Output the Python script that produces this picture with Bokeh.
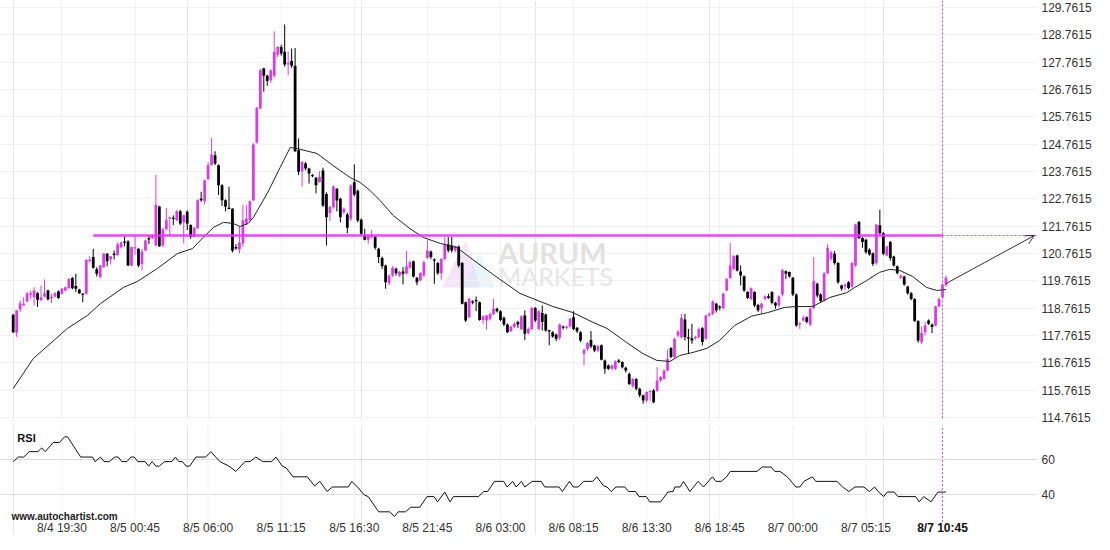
from bokeh.plotting import figure
from bokeh.layouts import column
from bokeh.models import (Range1d, FixedTicker, PrintfTickFormatter, Span, Label,
                          Arrow, OpenHead, Grid)
from bokeh.core.properties import value
from bokeh.embed import file_html
from bokeh.resources import INLINE

# ---------------- data (15-minute candles, index 0 = 8/4 16:15) ----------------
opens = [118.52, 117.86, 118.71, 118.86, 119.00, 119.25, 119.16, 119.31, 119.04, 119.19,
         119.41, 119.14, 119.19, 119.37, 119.29, 119.41, 119.49, 119.86, 119.57, 119.44,
         119.29, 119.29, 120.48, 120.63, 120.18, 119.89, 120.26, 120.75, 120.54, 120.75,
         120.71, 120.99, 121.20, 121.20, 120.32, 120.95, 120.93, 120.38, 120.87, 121.32,
         121.32, 121.05, 122.48, 121.05, 121.65, 122.04, 122.06, 121.98, 122.31, 121.90,
         122.29, 121.80, 121.37, 121.68, 122.77, 122.67, 123.48, 124.00, 124.36, 123.99,
         123.26, 122.71, 122.42, 122.40, 121.00, 120.92, 121.13, 121.86, 121.98, 122.71,
         124.82, 126.07, 127.53, 127.26, 127.10, 127.26, 128.02, 128.32, 128.14, 127.68,
         127.80, 127.63, 124.54, 123.77, 124.05, 123.87, 123.62, 123.53, 123.38, 123.80,
         122.94, 122.24, 122.46, 123.13, 122.76, 122.27, 122.19, 122.03, 123.37, 123.06,
         122.00, 121.42, 121.26, 121.36, 121.36, 120.93, 120.60, 120.32, 119.67, 119.96,
         120.20, 119.96, 120.10, 120.04, 120.24, 120.48, 119.87, 119.77, 119.96, 120.60,
         120.83, 120.54, 120.41, 120.04, 120.56, 121.09, 121.05, 120.87, 121.02, 120.41,
         118.98, 118.43, 119.00, 119.05, 118.98, 118.33, 118.31, 118.37, 118.55, 118.74,
         118.65, 118.41, 118.16, 117.92, 118.07, 118.25, 118.00, 118.49, 117.85, 118.00,
         118.77, 118.00, 118.58, 118.53, 117.94, 117.88, 117.80, 117.68, 118.09, 118.04,
         118.09, 118.43, 118.04, 117.88, 117.09, 117.27, 117.60, 117.39, 117.21, 117.40,
         116.85, 116.66, 116.54, 116.54, 116.85, 116.79, 116.58, 116.36, 115.91, 116.17,
         115.81, 115.57, 115.38, 115.69, 115.75, 115.73, 116.11, 116.17, 116.48, 117.30,
         116.97, 117.76, 117.70, 118.35, 117.69, 117.66, 117.66, 117.70, 118.03, 117.64,
         118.49, 118.55, 118.92, 118.81, 118.76, 119.41, 119.86, 120.20, 120.69, 120.10,
         119.93, 119.35, 119.10, 119.35, 118.88, 118.76, 119.10, 119.20, 119.35, 118.96,
         118.86, 119.26, 120.11, 120.08, 119.87, 119.26, 118.16, 118.31, 118.43, 118.16,
         118.77, 119.65, 119.26, 119.04, 120.04, 120.57, 120.75, 120.41, 119.59, 119.55,
         119.71, 119.55, 120.32, 121.91, 121.33, 121.26, 120.90, 120.77, 120.41, 121.79,
         121.50, 120.69, 121.18, 120.65, 120.29, 119.87, 119.92, 119.55, 119.31, 119.10,
         118.29, 117.52, 117.88, 118.31, 118.16, 118.13, 118.82, 119.16, 119.60]
highs = [118.55, 118.68, 119.04, 119.16, 119.35, 119.41, 119.53, 119.35, 119.59, 119.81,
         119.44, 119.29, 119.35, 119.41, 119.50, 119.55, 119.86, 119.90, 120.02, 119.47,
         119.29, 120.55, 120.66, 120.93, 120.26, 120.35, 120.78, 120.78, 120.68, 120.87,
         121.17, 121.20, 121.39, 121.25, 121.02, 121.39, 120.95, 120.93, 121.27, 121.42,
         121.45, 123.64, 122.50, 121.70, 122.43, 122.10, 122.16, 122.36, 122.36, 122.18,
         122.34, 121.83, 121.73, 122.74, 123.02, 123.46, 124.10, 124.99, 124.50, 124.02,
         123.30, 122.74, 123.20, 122.42, 121.10, 121.74, 122.55, 122.53, 122.70, 124.80,
         126.12, 127.53, 127.56, 127.30, 127.50, 128.89, 128.35, 128.40, 129.14, 128.14,
         128.26, 128.28, 124.97, 124.15, 124.10, 123.90, 123.67, 123.56, 123.77, 123.90,
         123.00, 122.50, 123.25, 123.15, 122.80, 122.45, 122.25, 123.30, 124.02, 123.10,
         122.05, 121.66, 121.45, 121.63, 121.40, 120.97, 120.65, 120.35, 120.00, 120.30,
         120.25, 120.12, 120.26, 120.85, 120.50, 120.50, 119.90, 120.08, 120.50, 121.24,
         120.87, 120.58, 120.45, 120.60, 121.36, 121.36, 121.36, 121.05, 121.05, 120.45,
         119.00, 119.15, 119.05, 119.19, 119.00, 118.50, 118.52, 118.60, 119.10, 118.78,
         118.68, 118.45, 118.20, 118.12, 118.25, 118.30, 118.50, 118.68, 118.05, 118.80,
         118.80, 118.70, 118.86, 118.56, 117.97, 117.92, 117.83, 118.20, 118.12, 118.12,
         118.40, 118.65, 118.07, 117.92, 117.28, 117.52, 117.92, 117.42, 117.42, 117.43,
         116.88, 116.70, 116.70, 116.85, 116.90, 116.82, 116.62, 116.40, 116.20, 116.20,
         115.85, 115.60, 115.72, 115.76, 115.80, 116.60, 116.28, 116.52, 117.25, 117.33,
         117.68, 117.95, 118.55, 118.55, 118.00, 118.19, 117.75, 118.05, 118.07, 118.52,
         118.60, 119.05, 118.95, 118.86, 119.33, 119.87, 121.15, 120.70, 120.72, 120.32,
         119.96, 119.38, 119.52, 119.38, 118.92, 118.95, 119.23, 119.29, 119.38, 118.99,
         119.23, 120.20, 120.14, 120.10, 119.90, 119.30, 118.25, 118.50, 118.46, 118.78,
         120.63, 119.70, 119.30, 120.08, 121.11, 120.85, 120.85, 120.45, 119.62, 119.66,
         119.75, 120.45, 121.85, 121.95, 121.36, 121.30, 120.95, 120.80, 121.85, 122.36,
         121.55, 121.05, 121.22, 120.68, 120.32, 120.00, 119.95, 119.58, 119.35, 119.13,
         118.32, 118.10, 118.25, 118.35, 118.20, 118.85, 119.15, 119.66, 119.95]
lows = [117.85, 117.70, 118.61, 118.86, 118.98, 119.10, 118.86, 118.80, 119.04, 119.16,
        119.04, 118.95, 119.16, 119.10, 119.26, 119.38, 119.47, 119.45, 119.35, 119.28,
        118.98, 119.26, 120.44, 120.20, 119.92, 119.87, 120.24, 120.29, 120.36, 120.54,
        120.68, 120.95, 121.02, 120.30, 120.30, 120.71, 120.26, 120.14, 120.85, 121.11,
        121.30, 121.03, 121.00, 121.00, 121.62, 121.43, 121.80, 121.95, 121.80, 121.13,
        121.62, 121.30, 121.35, 121.65, 122.65, 122.55, 123.46, 123.98, 124.00, 122.90,
        122.50, 122.30, 122.38, 120.80, 120.90, 120.76, 121.00, 121.80, 121.95, 122.68,
        124.78, 126.05, 126.68, 126.90, 127.00, 127.20, 127.95, 128.00, 127.60, 127.28,
        127.55, 124.48, 123.63, 123.20, 123.80, 123.32, 123.55, 122.96, 123.35, 122.46,
        121.05, 121.95, 122.40, 122.30, 121.90, 122.20, 121.50, 121.95, 122.85, 121.90,
        121.42, 121.24, 121.12, 121.30, 120.90, 120.41, 120.20, 119.47, 119.60, 119.90,
        119.95, 119.90, 119.63, 120.00, 120.20, 119.88, 119.60, 119.75, 119.90, 120.56,
        120.55, 119.65, 119.98, 119.80, 120.50, 120.80, 120.80, 120.80, 120.25, 118.90,
        118.25, 118.40, 118.90, 118.65, 118.30, 118.19, 117.97, 118.30, 118.50, 118.60,
        118.28, 118.10, 117.85, 117.88, 118.03, 118.04, 117.95, 117.60, 117.80, 117.95,
        118.25, 117.95, 117.94, 117.90, 117.40, 117.68, 117.55, 117.60, 117.98, 117.98,
        118.05, 117.95, 117.85, 117.52, 116.66, 117.20, 117.30, 117.15, 117.15, 116.85,
        116.36, 116.50, 116.50, 116.50, 116.75, 116.55, 116.40, 115.95, 115.85, 115.75,
        115.50, 115.26, 115.30, 115.38, 115.28, 115.70, 116.05, 116.15, 116.45, 116.93,
        116.93, 117.70, 117.65, 117.58, 117.09, 117.46, 117.60, 117.65, 117.40, 117.60,
        118.45, 118.50, 118.60, 118.68, 118.72, 119.38, 119.83, 120.15, 120.10, 119.59,
        119.35, 119.10, 119.05, 118.80, 118.62, 118.55, 119.05, 119.10, 118.90, 118.74,
        118.80, 119.20, 119.83, 119.88, 119.20, 118.08, 118.00, 118.28, 118.20, 118.10,
        118.72, 119.15, 118.95, 119.00, 120.00, 120.50, 120.35, 119.65, 119.40, 119.41,
        119.45, 119.50, 120.28, 121.28, 120.97, 120.75, 120.68, 120.30, 120.35, 121.45,
        120.70, 120.65, 120.50, 120.28, 120.00, 119.82, 119.58, 119.25, 119.05, 118.25,
        117.50, 117.45, 117.76, 118.15, 117.85, 118.10, 118.80, 119.10, 119.55]
closes = [117.88, 118.68, 118.94, 118.92, 119.31, 119.31, 119.41, 119.07, 119.16, 119.31,
          119.09, 119.16, 119.31, 119.13, 119.47, 119.53, 119.83, 119.49, 119.47, 119.31,
          119.26, 120.53, 120.53, 120.24, 120.02, 120.32, 120.75, 120.48, 120.66, 120.71,
          121.09, 121.17, 121.15, 120.32, 120.99, 120.99, 120.32, 120.83, 121.24, 121.27,
          121.39, 122.54, 121.03, 121.64, 121.98, 122.10, 122.04, 122.31, 121.86, 122.16,
          121.86, 121.37, 121.70, 122.71, 122.71, 123.44, 124.00, 124.38, 124.05, 123.26,
          122.71, 122.47, 122.40, 120.86, 120.94, 121.16, 121.98, 122.04, 122.67, 124.75,
          126.09, 127.47, 127.26, 127.07, 127.47, 128.14, 128.32, 128.08, 127.68, 127.73,
          127.63, 124.50, 123.75, 124.11, 123.87, 123.69, 123.60, 123.26, 123.56, 122.52,
          122.09, 122.46, 123.21, 122.70, 122.09, 122.40, 121.70, 123.25, 122.92, 121.97,
          121.48, 121.26, 121.42, 121.42, 120.97, 120.63, 120.29, 119.71, 119.96, 120.24,
          120.04, 120.08, 120.02, 120.29, 120.44, 119.92, 119.71, 120.04, 120.44, 120.87,
          120.63, 120.50, 120.04, 120.56, 121.09, 120.87, 120.87, 121.02, 120.32, 118.92,
          118.31, 119.10, 118.97, 119.02, 118.33, 118.46, 118.49, 118.55, 118.74, 118.65,
          118.33, 118.16, 117.88, 118.09, 118.19, 118.16, 118.46, 117.82, 118.00, 118.77,
          118.31, 118.65, 118.25, 117.94, 117.92, 117.72, 117.64, 118.16, 118.04, 118.09,
          118.37, 118.00, 117.92, 117.58, 117.24, 117.48, 117.36, 117.21, 117.38, 116.87,
          116.54, 116.54, 116.66, 116.82, 116.79, 116.60, 116.48, 115.99, 116.17, 115.81,
          115.57, 115.38, 115.69, 115.73, 115.32, 116.11, 116.24, 116.48, 116.91, 116.97,
          117.64, 117.91, 118.40, 117.70, 117.66, 117.58, 117.70, 118.00, 117.52, 118.49,
          118.55, 119.00, 118.68, 118.79, 119.29, 119.83, 120.32, 120.66, 120.14, 119.96,
          119.41, 119.13, 119.49, 118.86, 118.68, 118.92, 119.20, 119.13, 118.96, 118.86,
          119.20, 120.16, 120.02, 119.92, 119.26, 118.13, 118.21, 118.41, 118.25, 118.74,
          119.75, 119.22, 119.02, 120.04, 120.97, 120.81, 120.41, 119.71, 119.47, 119.63,
          119.50, 120.41, 121.82, 121.33, 121.18, 120.81, 120.72, 120.38, 121.82, 121.50,
          120.75, 121.02, 120.60, 120.32, 120.04, 119.96, 119.63, 119.31, 119.10, 118.29,
          117.58, 117.85, 118.13, 118.19, 118.07, 118.82, 119.10, 119.63, 119.87]

# moving average: (bar, price)
ma_trace = [(0, 115.82), (5.8, 116.92), (15.6, 118.02), (21.3, 118.49), (25.1, 118.93),
            (31.7, 119.52), (35.7, 119.74), (41.4, 120.21), (47.2, 120.76), (51.5, 120.94),
            (54.6, 121.35), (57.5, 121.71), (60.4, 121.90), (63.2, 121.86), (65.2, 121.75),
            (67.5, 121.86), (69.0, 122.08), (73.0, 122.96), (76.7, 123.91), (79.6, 124.64),
            (81.6, 124.60), (87.3, 124.42), (91.9, 123.98), (96.8, 123.54), (99.7, 123.36),
            (102.5, 123.07), (105.4, 122.70), (109.2, 122.15), (114.0, 121.67), (117.8, 121.35),
            (122.7, 121.13), (127.5, 120.98), (131.3, 120.61), (137.9, 119.99), (145.6, 119.30),
            (149.3, 119.11), (155.1, 118.82), (160.8, 118.60), (166.6, 118.24), (170.6, 118.02),
            (176.3, 117.50), (180.9, 117.10), (184.9, 116.85), (188.7, 116.81), (191.5, 117.03),
            (195.3, 117.14), (199.3, 117.29), (203.0, 117.58), (207.3, 118.13), (212.2, 118.47),
            (216.8, 118.60), (221.7, 118.79), (225.1, 118.82), (229.7, 118.82), (234.6, 119.15),
            (239.5, 119.33), (241.8, 119.52), (245.2, 119.77), (248.9, 120.07), (251.8, 120.18),
            (254.7, 120.14), (258.4, 119.92), (262.4, 119.52), (265.3, 119.41), (268.0, 119.44)]

# RSI: (bar, value)
rsi_trace = [(0, 58.8), (1.5, 61.4), (3.0, 61.4), (4.6, 64.5), (7.1, 64.5), (8.2, 66.6),
             (9.2, 64.5), (11.5, 69.7), (13.3, 69.7), (14.8, 73.0), (15.6, 73.0), (19.4, 61.4),
             (22.8, 61.4), (23.5, 58.8), (25.1, 61.4), (26.1, 58.8), (27.6, 58.8), (29.2, 61.4),
             (30.2, 61.4), (31.2, 58.8), (32.7, 58.8), (33.8, 61.4), (34.8, 61.4), (35.8, 58.8),
             (37.9, 58.8), (38.9, 56.2), (39.9, 58.8), (41.0, 56.2), (42.0, 56.2), (43.5, 58.8),
             (45.6, 58.8), (46.6, 61.4), (47.6, 58.8), (48.6, 58.8), (49.7, 56.2), (50.7, 56.2),
             (52.5, 61.4), (55.3, 61.4), (56.8, 64.5), (59.4, 58.8), (62.0, 56.2), (64.0, 53.2),
             (66.6, 58.8), (68.1, 58.8), (69.7, 61.4), (71.7, 58.8), (74.3, 58.8), (75.5, 61.4),
             (77.3, 56.2), (78.4, 55.3), (80.4, 50.1), (84.5, 50.1), (86.6, 44.9), (88.1, 47.5),
             (90.2, 41.7), (91.7, 44.3), (96.3, 44.3), (97.3, 47.5), (98.9, 44.3), (100.9, 39.7),
             (102.0, 38.8), (105.0, 30.1), (108.1, 30.1), (109.6, 27.5), (110.6, 30.1),
             (112.7, 30.1), (114.2, 32.7), (116.8, 32.7), (118.9, 38.8), (120.9, 38.8),
             (121.9, 35.8), (124.0, 41.4), (125.5, 35.8), (126.5, 38.8), (133.7, 38.8),
             (135.2, 41.7), (136.3, 41.7), (138.3, 47.5), (140.9, 47.5), (141.9, 44.3),
             (143.5, 47.5), (144.5, 44.3), (146.0, 47.5), (147.0, 44.3), (149.1, 47.5),
             (151.7, 47.5), (152.7, 44.3), (156.8, 44.3), (157.8, 41.7), (159.8, 47.5),
             (160.9, 44.3), (162.4, 44.3), (163.9, 47.5), (166.5, 47.5), (167.7, 50.1),
             (169.6, 44.9), (170.6, 44.3), (171.8, 41.7), (173.2, 44.3), (175.7, 44.3),
             (176.8, 41.7), (178.8, 41.7), (179.8, 38.8), (181.9, 38.8), (182.9, 35.8),
             (186.0, 35.8), (188.1, 41.4), (189.6, 41.7), (190.1, 44.3), (191.6, 44.3),
             (192.6, 47.5), (194.4, 41.7), (196.8, 47.5), (198.3, 44.3), (200.9, 50.1),
             (201.9, 47.5), (203.4, 47.5), (205.0, 50.1), (206.0, 53.2), (213.7, 53.2),
             (215.2, 55.7), (217.8, 55.7), (218.8, 53.2), (220.3, 53.2), (222.4, 50.1),
             (224.9, 44.3), (226.0, 44.3), (227.2, 47.5), (229.6, 50.1), (230.6, 47.5),
             (236.7, 47.5), (238.3, 44.3), (240.1, 41.7), (241.9, 44.3), (244.4, 44.3),
             (246.0, 41.7), (247.5, 44.3), (248.5, 41.7), (250.1, 38.8), (251.1, 41.4),
             (253.1, 41.4), (254.2, 38.8), (259.3, 38.8), (260.3, 35.8), (261.6, 38.8),
             (263.7, 35.8), (265.7, 41.4), (268.0, 41.4)]

x_tick_bars = [14, 35, 56, 77, 98, 119, 140, 161, 182, 203, 224, 245]
x_tick_labels = ["8/4 19:30", "8/5 00:45", "8/5 06:00", "8/5 11:15", "8/5 16:30",
                 "8/5 21:45", "8/6 03:00", "8/6 08:15", "8/6 13:30", "8/6 18:45",
                 "8/7 00:00", "8/7 05:15"]
signal_bar = 267
signal_label = "8/7 10:45"
resistance_level = 121.42
resistance_start_bar = 23
arrow_start = (268, 119.66)
arrow_end_bar = 293.4
price_ticks = [114.7615 + k for k in range(16)]
rsi_ticks = [40, 60]

# ---------------- styling ----------------
MAG = "#d93ce6"
FONT = "Liberation Sans"
GRID = "#f1f1f1"

n = min(len(opens), len(highs), len(lows), len(closes))
idx = list(range(n))
colors = [MAG if closes[i] >= opens[i] else "#000000" for i in idx]
tops, bots = [], []
for i in idx:
    t, b = max(opens[i], closes[i]), min(opens[i], closes[i])
    if t - b < 0.045:
        m = (t + b) / 2
        t, b = m + 0.0225, m - 0.0225
    tops.append(t)
    bots.append(b)

xr = Range1d(-3.645, 294.29)

# ---------------- price panel ----------------
p = figure(width=1094, height=425, x_range=xr, y_range=Range1d(114.65, 130.018),
           output_backend="svg", toolbar_location=None, x_axis_location=None,
           y_axis_location="right", min_border_left=0, min_border_right=56,
           min_border_top=0, min_border_bottom=5)
p.outline_line_color = None
p.yaxis.ticker = FixedTicker(ticks=price_ticks)
p.yaxis.formatter = PrintfTickFormatter(format="%.4f")
p.yaxis.axis_line_color = None
p.yaxis.major_tick_line_color = None
p.yaxis.minor_tick_line_color = None
p.yaxis.major_tick_out = 0
p.yaxis.major_tick_in = 0
p.yaxis.major_label_standoff = 4
p.yaxis.major_label_text_font = FONT
p.yaxis.major_label_text_font_size = "12px"
p.yaxis.major_label_text_color = "#333333"
p.ygrid.grid_line_color = GRID
p.add_layout(Grid(dimension=0, ticker=FixedTicker(ticks=x_tick_bars),
                  grid_line_color=GRID))

# watermark
p.add_layout(Label(x=139.3, y=120.78, text="AURUM", text_font="Lato",
                   text_font_size="29px", text_font_style="bold", text_color="#e2e2e2",
                   text_baseline="middle", level="underlay"))
p.add_layout(Label(x=139.3, y=119.92, text="MARKETS", text_font="Lato",
                   text_font_size="25px", text_color="#e6e6e6",
                   text_baseline="middle", level="underlay"))
p.patches(xs=[[123.2, 130.1, 134.1], [129.0, 134.1, 138.4]],
          ys=[[119.52, 121.24, 119.52], [119.52, 120.80, 119.52]],
          fill_color=["#e6c6f0", "#cfe6f7"], fill_alpha=0.45, line_color=None,
          level="underlay")

# candles
p.segment(x0=idx, y0=lows[:n], x1=idx, y1=highs[:n], line_color=colors, line_width=1)
p.vbar(x=idx, width=0.8, top=tops, bottom=bots, fill_color=colors, line_color=None)

# moving average
p.line([b for b, v in ma_trace], [v for b, v in ma_trace], line_color="#222222",
       line_width=1)

# resistance line + projection
p.segment(x0=[resistance_start_bar], y0=[resistance_level], x1=[signal_bar],
          y1=[resistance_level], line_color=MAG, line_width=2.5, line_alpha=0.9)
p.segment(x0=[signal_bar], y0=[resistance_level], x1=[xr.end], y1=[resistance_level],
          line_color=MAG, line_width=1, line_dash="2 2")
p.add_layout(Span(location=signal_bar, dimension="height", line_color=MAG,
                  line_width=1, line_dash="2 2"))
p.add_layout(Arrow(end=OpenHead(size=9, line_color="#333333", line_width=1),
                   x_start=arrow_start[0], y_start=arrow_start[1],
                   x_end=arrow_end_bar, y_end=resistance_level,
                   line_color="#333333", line_width=1))

# ---------------- RSI panel (time labels drawn inside its lower strip) ----------------
rsi_top, rsi_bottom = 79.43, 17.14
grid_low = 25.7
label_y = 21.14
r = figure(width=1094, height=109, x_range=xr, y_range=Range1d(rsi_bottom, rsi_top),
           output_backend="svg", toolbar_location=None, x_axis_location=None,
           y_axis_location="right", min_border_left=0, min_border_right=56,
           min_border_top=0, min_border_bottom=0)
r.outline_line_color = None
r.yaxis.ticker = FixedTicker(ticks=rsi_ticks)
r.yaxis.axis_line_color = None
r.yaxis.major_tick_line_color = None
r.yaxis.minor_tick_line_color = None
r.yaxis.major_tick_out = 0
r.yaxis.major_tick_in = 0
r.yaxis.major_label_standoff = 4
r.yaxis.major_label_text_font = FONT
r.yaxis.major_label_text_font_size = "12px"
r.yaxis.major_label_text_color = "#333333"
r.ygrid.grid_line_color = "#dcdcdc"

r.segment(x0=x_tick_bars, y0=[grid_low] * len(x_tick_bars), x1=x_tick_bars,
          y1=[rsi_top] * len(x_tick_bars), line_color=GRID, line_width=1)
r.line([b for b, v in rsi_trace], [v for b, v in rsi_trace], line_color="#111111",
       line_width=1)
r.segment(x0=[signal_bar], y0=[grid_low - 1.5], x1=[signal_bar], y1=[rsi_top],
          line_color=MAG, line_width=1, line_dash="2 2")
r.text(x=x_tick_bars, y=[label_y] * len(x_tick_bars), text=x_tick_labels,
       text_font=value(FONT), text_font_size="12px", text_color="#333333",
       text_align="center", text_baseline="middle")
r.text(x=[signal_bar], y=[label_y], text=[signal_label], text_font=value(FONT),
       text_font_size="12px", text_font_style="bold", text_color="#111111",
       text_align="center", text_baseline="middle")
r.add_layout(Label(x=1.2, y=72.57, text="RSI", text_font=FONT, text_font_size="11px",
                   text_font_style="bold", text_color="#111111", text_baseline="middle"))
r.add_layout(Label(x=-0.5, y=27.4, text="www.autochartist.com", text_font=FONT,
                   text_font_size="10px", text_font_style="bold", text_color="#222222",
                   text_baseline="middle"))

layout = column(p, r)
open("out.html", "w").write(file_html(layout, INLINE))
